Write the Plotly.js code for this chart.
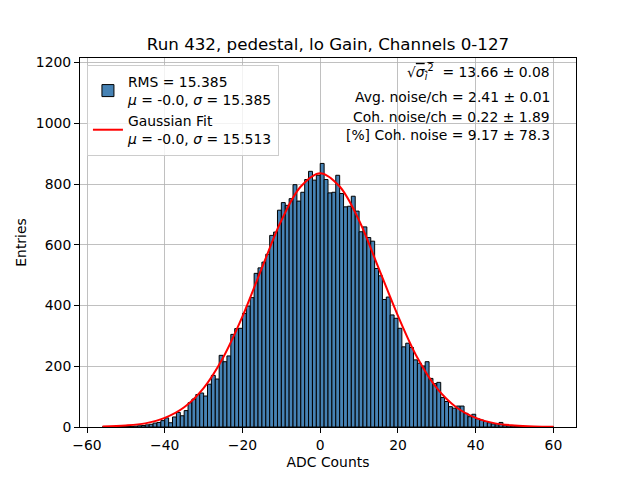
<!DOCTYPE html>
<html>
<head>
<meta charset="utf-8">
<script src="https://cdn.plot.ly/plotly-3.0.1.min.js"></script>
<style>
  html, body { margin: 0; padding: 0; background: #fff; }
  #plot { width: 640px; height: 480px; }
</style>
</head>
<body>
<div id="plot"></div>
<script>
// Histogram: bins of width 1, left edges from -56 to 59 (ADC counts)
const BIN_START = -56;
const COUNTS = [
  1, 0, 1, 1, 1, 2, 2, 2, 3, 4,              // -56 .. -47
  5, 7, 9, 13, 15, 21, 30, 14, 33, 48,       // -46 .. -37
  37, 54, 80, 92, 107, 112, 102, 141, 170, 158, // -36 .. -27
  236, 215, 234, 305, 324, 325, 374, 398, 426, 506, // -26 .. -17
  524, 543, 569, 631, 642, 714, 739, 730, 752, 798, // -16 .. -7
  744, 773, 815, 842, 813, 829, 868, 815, 771, 773, // -6 .. 3
  829, 769, 725, 727, 760, 711, 643, 659, 624, 612, // 4 .. 13
  522, 498, 420, 428, 369, 358, 325, 264, 276, 262, // 14 .. 23
  221, 210, 201, 215, 160, 143, 147, 97, 84, 67,    // 24 .. 33
  62, 69, 69, 45, 34, 42, 27, 23, 18, 14,           // 34 .. 43
  10, 7, 15, 6, 4, 3, 2, 2, 1, 1,                   // 44 .. 53
  0, 1, 0, 0, 0, 1                                  // 54 .. 59
];

// Gaussian fit curve
const FIT_X = [-56, -50, -45, -40, -35, -30, -25, -20, -15, -10, -5, 0,
               5, 10, 15, 20, 25, 30, 35, 40, 45, 50, 55, 60];
const FIT_Y = [2, 5, 12, 30, 65, 128, 228, 364, 524, 680, 792, 836,
               792, 680, 524, 366, 228, 128, 65, 30, 12, 5, 2, 1];

const HIST_LABEL = 'RMS = 15.385<br><i>μ</i> = -0.0, <i>σ</i> = 15.385';
const FIT_LABEL = 'Gaussian Fit<br><i>μ</i> = -0.0, <i>σ</i> = 15.513';
const TITLE = 'Run 432, pedestal, lo Gain, Channels 0-127';
const STATS = [
  '√<span style="text-decoration:overline"><i>σ</i><sub><i>i</i></sub><sup>2</sup></span>  = 13.66 ± 0.08',
  'Avg. noise/ch = 2.41 ± 0.01',
  'Coh. noise/ch = 0.22 ± 1.89',
  '[%] Coh. noise = 9.17 ± 78.3'
];
const STATS_Y = [0.963, 0.895, 0.841, 0.791];

const X_TICKS = [-60, -40, -20, 0, 20, 40, 60];
const Y_TICKS = [0, 200, 400, 600, 800, 1000, 1200];

const FONT = 'DejaVu Sans, sans-serif';
const SIZE = 13.9;

function binCenters() {
  let xs = [];
  for (let i = 0; i < COUNTS.length; i++) {
    xs.push(BIN_START + i + 0.5);
  }
  return xs;
}

function makePlot() {
  let maxCount = Math.max(...COUNTS);
  let hist = {
    type: 'bar',
    name: HIST_LABEL,
    x: binCenters(),
    y: COUNTS,
    width: 1,
    marker: {color: '#4682b4', line: {color: '#000000', width: 1}},
    hoverinfo: 'x+y'
  };
  let fit = {
    type: 'scatter',
    mode: 'lines',
    name: FIT_LABEL,
    x: FIT_X,
    y: FIT_Y,
    line: {color: '#ff0000', width: 2, shape: 'spline', smoothing: 1}
  };

  let annotations = STATS.map((text, i) => ({
    xref: 'paper', yref: 'paper',
    x: 0.952, y: STATS_Y[i],
    xanchor: 'right', yanchor: 'middle',
    text: text, showarrow: false,
    font: {family: FONT, size: SIZE, color: '#000'}
  }));

  const axisCommon = {
    showline: true, mirror: true, linecolor: '#000', linewidth: 1,
    ticks: 'outside', ticklen: 5, tickwidth: 1, tickcolor: '#000',
    showgrid: true, gridcolor: '#b0b0b0', gridwidth: 0.8,
    zeroline: false,
    tickfont: {family: FONT, size: SIZE, color: '#000'}
  };

  let layout = {
    width: 640, height: 480,
    margin: {l: 80, r: 64, t: 58, b: 53},
    paper_bgcolor: '#fff', plot_bgcolor: '#fff',
    font: {family: FONT, color: '#000'},
    title: {text: TITLE, font: {family: FONT, size: 16.7, color: '#000'},
            x: 0.5, xref: 'paper', xanchor: 'center', y: 0.908, yanchor: 'middle'},
    bargap: 0,
    showlegend: true,
    legend: {
      x: 0.014, y: 0.981, xanchor: 'left', yanchor: 'top',
      bgcolor: 'rgba(255,255,255,0.8)', bordercolor: '#cccccc', borderwidth: 1,
      font: {family: FONT, size: SIZE, color: '#000'},
      itemwidth: 30, tracegroupgap: 0
    },
    xaxis: Object.assign({}, axisCommon, {
      range: [-61.8, 65.8], tickvals: X_TICKS,
      title: {text: 'ADC Counts', font: {family: FONT, size: SIZE, color: '#000'}, standoff: 5}
    }),
    yaxis: Object.assign({}, axisCommon, {
      range: [0, maxCount * 1.4], tickvals: Y_TICKS,
      title: {text: 'Entries', font: {family: FONT, size: SIZE, color: '#000'}, standoff: 5}
    }),
    annotations: annotations
  };

  Plotly.newPlot('plot', [hist, fit], layout, {displayModeBar: false, staticPlot: true});
}

makePlot();
</script>
</body>
</html>
